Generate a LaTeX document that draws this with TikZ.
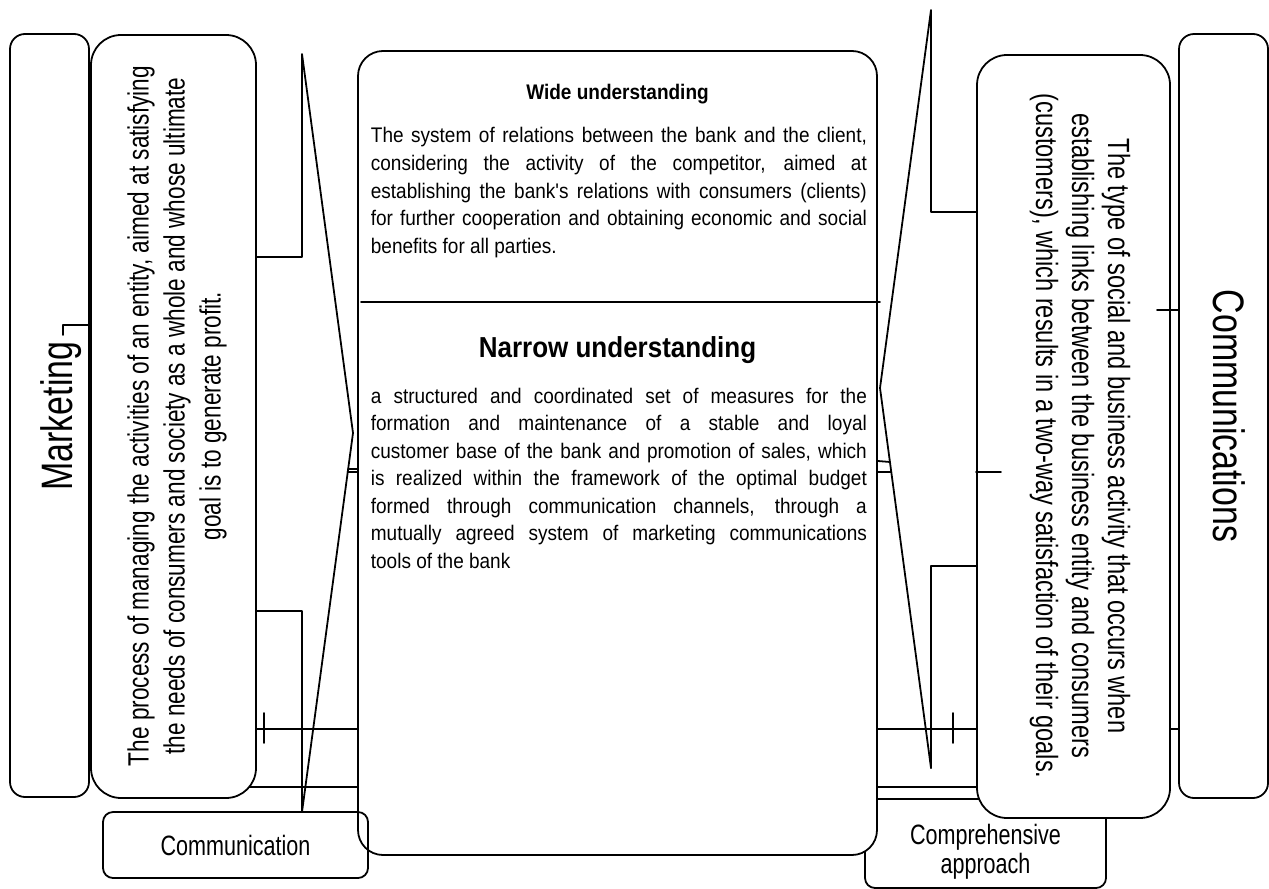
\documentclass[tikz,border=0pt]{standalone}
\usepackage{fontspec}
\setmainfont{Liberation Sans}
\newfontfamily\condfont[FakeStretch=0.77]{Liberation Sans}
\newfontfamily\bodyfont[FakeStretch=0.9]{Liberation Sans}
\usetikzlibrary{backgrounds}
\begin{document}
\begin{tikzpicture}[x=0.45pt, y=-0.45pt, line join=round, line cap=round, line width=0.8pt]
	\tikzset{panel/.style={draw, fill=white, rounded corners=#1, inner sep=0pt},
		panel/.default=13.5pt,
		link/.style={line width=0.8pt, line join=round, line cap=round},
		heading/.style={inner sep=0pt, font=\bodyfont\bfseries\fontsize{#1}{#1}\selectfont},
		para/.style={text width=223.2pt, align=justify, inner sep=0pt, font=\bodyfont\fontsize{9.5}{12.4}\selectfont},
		sidetext/.style={align=center, inner sep=0pt, font=\condfont\fontsize{#1}{16.2}\selectfont},
		bigword/.style={inner sep=0pt, font=\condfont\fontsize{19.8}{20}\selectfont},
		tagtext/.style={align=center, inner sep=0pt, font=\condfont\fontsize{12.6}{13}\selectfont}}
	\useasboundingbox (0,0) rectangle (1269,889);
	% boxes
	\node[panel=4.5pt, minimum width=108.45pt, minimum height=40.05pt] (compr) at (985.5,843.5) {};
	\node[panel=6.75pt, minimum width=35.55pt, minimum height=343.35pt] (mk) at (49.5,415.5) {};
	\node[panel, minimum width=74.25pt, minimum height=343.35pt] (mkdef) at (173.5,416.5) {};
	\node[panel=11.25pt, minimum width=233.55pt, minimum height=361.8pt] (cn) at (617.5,453) {};
	\node[panel, minimum width=86.85pt, minimum height=343.35pt] (cmdef) at (1073.5,436.5) {};
	\node[panel=6.75pt, minimum width=40.05pt, minimum height=343.8pt] (cm) at (1223.5,416) {};
	\node[draw, rounded corners=4.5pt, minimum width=119.25pt, minimum height=29.7pt, tagtext] (commun) at (235.5,845) {Communication};
	% links behind the boxes
	\begin{scope}[on background layer={link}]
		\coordinate (lt) at (302,54);
		\coordinate (la) at (353,433);
		\coordinate (lb) at (302,812);
		\draw[link] (mkdef.east |- 0,257) -| (lt) -- (la) -- (lb);
		\draw[link] (mkdef.east |- 0,611) -| (lb);
		\draw[link] (mkdef.east |- 0,729) -- (cn.west |- 0,729);
		\draw[link] (mkdef.center |- 0,787) -- (cn.west |- 0,787);
		\draw[link] (348,469) -- (cn.west |- 0,469);
		\draw[link] (347.6,472) -- (cn.west |- 0,472);
		\coordinate (rt) at (931,10);
		\coordinate (ra) at (880,388);
		\coordinate (rb) at (931,768);
		\draw[link] (cmdef.west |- 0,212) -| (rt) -- (ra) -- (rb);
		\draw[link] (cmdef.west |- 0,566) -| (rb);
		\draw[link] (cn.east |- 0,729) -- (cmdef.west |- 0,729);
		\draw[link] (cmdef.east |- 0,729) -- (cm.west |- 0,729);
		\draw[link] (cn.east |- 0,787) -- (cmdef.center |- 0,787);
		\draw[link] (cn.east |- 0,461) -- (890,462);
		\draw[link] (cn.east |- 0,472) -- (891.3,472);
	\end{scope}
	\draw (264,713) -- (264,743);
	\draw (953,713) -- (953,743);
	\draw (63,335) -- (63,325) -- (mk.east |- 0,325);
	\draw (cmdef.west |- 0,472) -- (1001,472);
	\draw (1157,310) -- (cm.west |- 0,310);
	\draw (361,302) -- (880,302);
	% texts
	\node[bigword, rotate=90] (mktx) at (61,416) {Marketing};
	\node[sidetext=13.2, rotate=90] (mkdeftx) at (177,416) {The process of managing the activities of an entity, aimed at satisfying\\the needs of consumers and society as a whole and whose ultimate\\goal is to generate profit.};
	\node[sidetext=13.8, rotate=-90] (cmdeftx) at (1080,436) {The type of social and business activity that occurs when\\establishing links between the business entity and consumers\\(customers), which results in a two-way satisfaction of their goals.};
	\node[bigword, rotate=-90] (cmtx) at (1229,416) {Communications};
	\node[tagtext] (comprtx) at (985.5,852) {Comprehensive\\approach};
	\node[heading=9.5, anchor=base] (widehd) at (617.5,100) {Wide understanding};
	\node[para, anchor=base west] (widetx) at (370,143) {The system of relations between the bank and the client,\linebreak considering the activity of the competitor, aimed at\linebreak establishing the bank's relations with consumers (clients)\linebreak for further cooperation and obtaining economic and social\linebreak benefits for all parties.};
	\node[heading=13, anchor=base] (narrowhd) at (617.5,357) {Narrow understanding};
	\node[para, anchor=base west] (narrowtx) at (370,403) {a structured and coordinated set of measures for the\linebreak formation and maintenance of a stable and loyal\linebreak customer base of the bank and promotion of sales, which\linebreak is realized within the framework of the optimal budget\linebreak formed through communication channels, through a\linebreak mutually agreed system of marketing communications\linebreak tools of the bank};
\end{tikzpicture}
\end{document}
